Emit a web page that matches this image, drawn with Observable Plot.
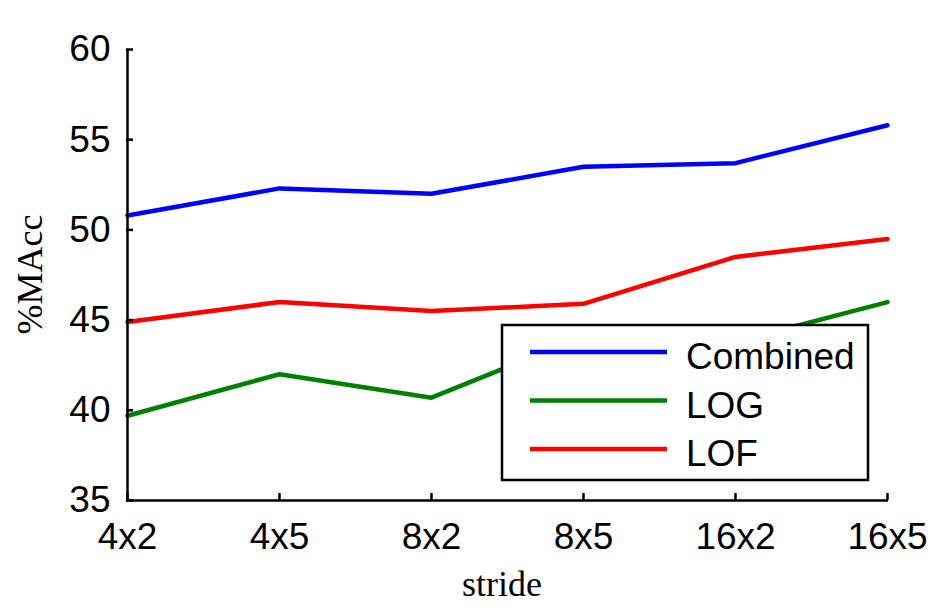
<!DOCTYPE html>
<html>
<head>
<meta charset="utf-8">
<script src="https://cdn.jsdelivr.net/npm/d3@7"></script>
<script src="https://cdn.jsdelivr.net/npm/@observablehq/plot@0.6"></script>
<style>
  html, body { margin: 0; padding: 0; background: #fff; }
  #chart svg { display: block; }
</style>
</head>
<body>
<div id="chart"></div>
<script>
const strides = ["4x2", "4x5", "8x2", "8x5", "16x2", "16x5"];
const combined = [50.8, 52.3, 52.0, 53.5, 53.7, 55.8];
const logVals = [39.7, 42.0, 40.7, 44.1, 43.8, 46.0];
const lofVals = [44.9, 46.0, 45.5, 45.9, 48.5, 49.5];
const seriesNames = ["Combined", "LOG", "LOF"];
const seriesColors = ["#0000ff", "#008000", "#ff0000"];
const yTicks = [35, 40, 45, 50, 55, 60];

const seriesValues = [combined, logVals, lofVals];
const rows = [];
seriesNames.forEach((name, si) => {
  strides.forEach((s, i) => rows.push({series: name, stride: s, value: seriesValues[si][i]}));
});

const sans = "'Liberation Sans', Arial, Helvetica, sans-serif";
const serif = "'Liberation Serif', 'Times New Roman', serif";

const plot = Plot.plot({
  width: 952,
  height: 616,
  marginLeft: 126,
  marginRight: 64,
  marginTop: 49,
  marginBottom: 116,
  style: {fontFamily: sans, fontSize: "36px", background: "#fff", color: "#000"},
  x: {type: "point", domain: strides, padding: 0, label: null},
  y: {domain: [35, 60], label: null},
  color: {domain: seriesNames, range: seriesColors},
  marks: [
    Plot.lineY(rows, {x: "stride", y: "value", z: "series", stroke: "series", strokeWidth: 4.5}),
    Plot.ruleX([strides[0]], {stroke: "#000", strokeWidth: 2.5}),
    Plot.ruleY([35], {stroke: "#000", strokeWidth: 2.5}),
    Plot.axisY(yTicks, {tickSize: 7, insetLeft: 7, text: null, strokeWidth: 2.5, stroke: "#000", label: null}),
    Plot.axisY(yTicks, {tickSize: 0, tickPadding: 16, fontSize: 37, label: null, fill: "#000"}),
    Plot.axisX(strides, {tickSize: 7, insetBottom: 7, text: null, strokeWidth: 2.5, stroke: "#000", label: null}),
    Plot.axisX(strides, {tickSize: 0, tickPadding: 22, fontSize: 37, label: null, fill: "#000"})
  ]
});

document.getElementById("chart").appendChild(plot);

const svg = d3.select(plot);

// Axis titles
svg.append("text")
  .attr("x", 502).attr("y", 596)
  .attr("text-anchor", "middle")
  .style("font-family", serif).style("font-size", "36px").attr("fill", "#000")
  .text("stride");

svg.append("text")
  .attr("transform", "translate(42,274.5) rotate(-90)")
  .attr("text-anchor", "middle")
  .style("font-family", serif).style("font-size", "36px").attr("fill", "#000")
  .text("%MAcc");

// Legend box
const lg = svg.append("g");
lg.append("rect")
  .attr("x", 502).attr("y", 325).attr("width", 366).attr("height", 155)
  .attr("fill", "#fff").attr("stroke", "#000").attr("stroke-width", 2.5);
seriesNames.forEach((name, i) => {
  const ly = 352 + i * 48.5;
  lg.append("line")
    .attr("x1", 530).attr("x2", 667).attr("y1", ly).attr("y2", ly)
    .attr("stroke", seriesColors[i]).attr("stroke-width", 4.5);
  lg.append("text")
    .attr("x", 686).attr("y", ly + 17)
    .attr("text-anchor", "start")
    .style("font-family", sans).style("font-size", "37px").attr("fill", "#000")
    .text(name);
});
</script>
</body>
</html>
